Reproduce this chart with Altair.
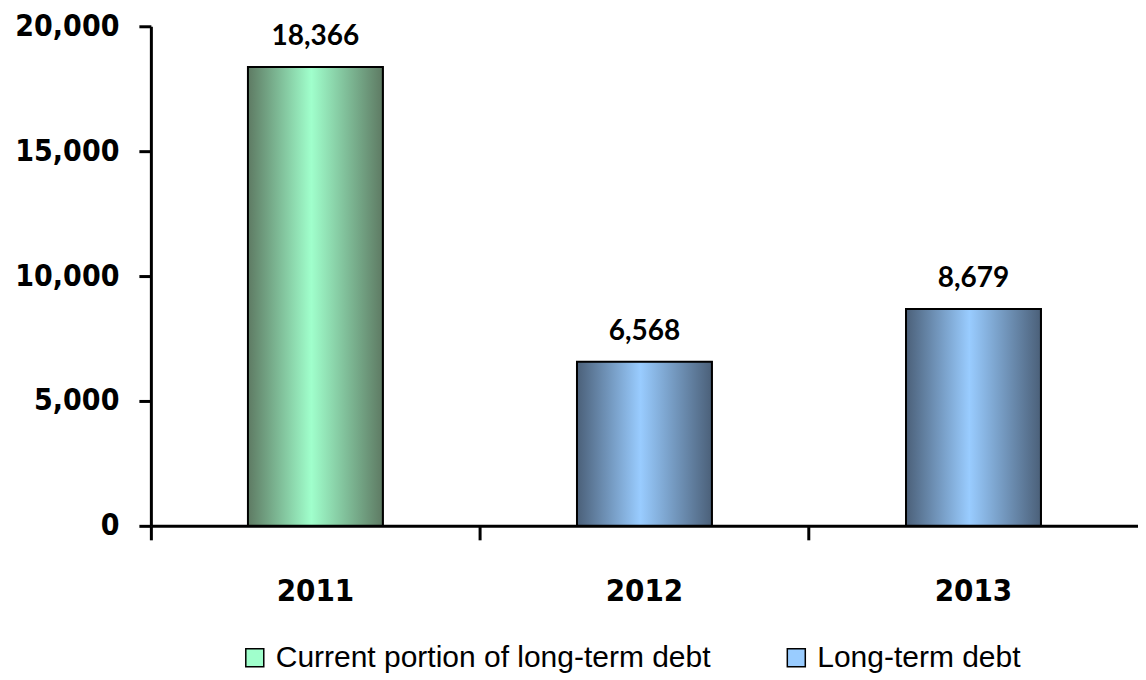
import altair as alt
import pandas as pd

years = ["2011", "2012", "2013"]
values = [18366, 6568, 8679]
series = ["Current portion of long-term debt", "Long-term debt", "Long-term debt"]
series_order = ["Current portion of long-term debt", "Long-term debt"]
legend_colors = ["#a0ffcc", "#99ccff"]
y_ticks = [0, 5000, 10000, 15000, 20000]

df = pd.DataFrame({"year": years, "value": values, "series": series})

AXIS_FONT = "DejaVu Sans Condensed, DejaVu Sans"

def grad(edge, center):
    return alt.Gradient(
        gradient="linear", x1=0, x2=1, y1=0, y2=0,
        stops=[alt.GradientStop(offset=0, color=edge),
               alt.GradientStop(offset=0.47, color=center),
               alt.GradientStop(offset=1, color=edge)])

x = alt.X("year:N", sort=years, title=None,
          scale=alt.Scale(paddingInner=0, paddingOuter=0),
          axis=alt.Axis(labelAngle=0, bandPosition=0,
                        domainColor="black", domainWidth=3, tickColor="black",
                        tickWidth=3, tickSize=14, labelPadding=37,
                        labelFont=AXIS_FONT, labelFontWeight="bold",
                        labelFontSize=31, labelColor="black"))
y = alt.Y("value:Q", title=None,
          scale=alt.Scale(domain=[0, 20000], nice=False),
          axis=alt.Axis(values=y_ticks, labelExpr="format(datum.value, ',')", grid=False,
                        domainColor="black", domainWidth=3, tickColor="black",
                        tickWidth=3, tickSize=12, labelPadding=20,
                        labelFont=AXIS_FONT, labelFontWeight="bold",
                        labelFontSize=30, labelColor="black"))

base = alt.Chart(df)
bar_w = alt.RelativeBandSize(0.41)

legend_layer = base.mark_bar(stroke="black", strokeWidth=1.5, width=bar_w).encode(
    x=x, y=y,
    color=alt.Color("series:N", sort=series_order,
                    scale=alt.Scale(domain=series_order, range=legend_colors),
                    legend=alt.Legend(title=None, orient="none", direction="horizontal",
                                      legendX=89, legendY=617,
                                      symbolType="square", symbolSize=324,
                                      symbolStrokeColor="black", symbolStrokeWidth=1.5,
                                      labelFont="Liberation Sans", labelFontSize=30,
                                      labelColor="black", columnPadding=70, labelOffset=6,
                                      labelLimit=700)))

green = base.transform_filter(alt.datum.series == series_order[0]).mark_bar(
    color=grad("#5e7a63", "#a0ffcc"), stroke="black", strokeWidth=2, width=bar_w
).encode(x=x, y=y)
blue = base.transform_filter(alt.datum.series == series_order[1]).mark_bar(
    color=grad("#4b6079", "#99ccff"), stroke="black", strokeWidth=2, width=bar_w
).encode(x=x, y=y)

labels = base.mark_text(baseline="bottom", dy=-16, font="Lato", fontWeight="bold",
                        fontSize=28, color="black").encode(
    x=x, y=y, text=alt.Text("value:Q", format=","))

chart = alt.layer(legend_layer, green, blue, labels).properties(
    width=988, height=500, background="white",
    padding={"left": 6, "top": 3, "right": 0, "bottom": 0}
).configure_view(stroke=None)

chart.save("out.html", embed_options={"renderer": "svg", "actions": False})
